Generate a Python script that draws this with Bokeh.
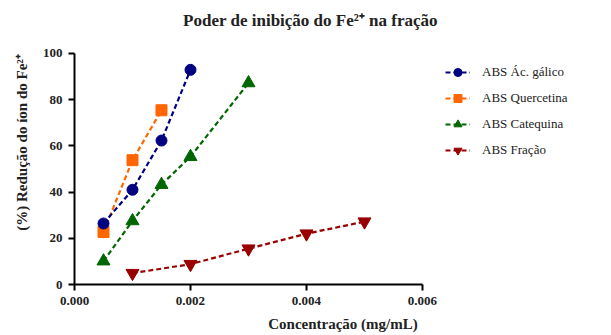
from bokeh.plotting import figure
from bokeh.models import Legend, LegendItem, NumeralTickFormatter, FixedTicker, Range1d, Label
from bokeh.embed import file_html
from bokeh.resources import INLINE

# Data
conc_gal = [0.0005, 0.001, 0.0015, 0.002]
red_gal = [26.4, 41.0, 62.3, 92.9]
conc_que = [0.0005, 0.001, 0.0015]
red_que = [22.7, 53.8, 75.4]
conc_cat = [0.0005, 0.001, 0.0015, 0.002, 0.003]
red_cat = [10.1, 27.5, 43.2, 55.3, 87.2]
conc_fra = [0.001, 0.002, 0.003, 0.004, 0.005]
red_fra = [4.9, 8.8, 15.5, 22.0, 27.2]

x_ticks = [0, 0.002, 0.004, 0.006]
y_ticks = [0, 20, 40, 60, 80, 100]

series = [
    ("ABS Ác. gálico", conc_gal, red_gal, "#000080", "circle", 11),
    ("ABS Quercetina", conc_que, red_que, "#FF6600", "square", 11),
    ("ABS Catequina", conc_cat, red_cat, "#006600", "triangle", 13),
    ("ABS Fração", conc_fra, red_fra, "#990000", "inverted_triangle", 13),
]

SERIF = "Liberation Serif"
TXT = "#222222"

# frame spans the legend/title area; axes are bounded to the data extents
p = figure(width=611, height=335, output_backend="svg", toolbar_location=None,
           x_range=Range1d(0, 0.009259), y_range=Range1d(0, 122.9),
           min_border_left=74, min_border_right=0, min_border_top=0, min_border_bottom=51)
p.outline_line_color = None
p.xgrid.grid_line_color = None
p.ygrid.grid_line_color = None

items = {}
for name, xs, ys, col, marker, size in reversed(series):
    r1 = p.line(xs, ys, line_color=col, line_width=2.2, line_dash="5 3")
    r2 = p.scatter(xs, ys, marker=marker, size=size, fill_color=col, line_color=col)
    items[name] = LegendItem(label=name, renderers=[r1, r2])

for ax in (p.xaxis[0], p.yaxis[0]):
    ax.axis_line_width = 2
    ax.axis_line_color = "black"
    ax.major_tick_line_width = 2
    ax.major_tick_line_color = "black"
    ax.major_tick_out = 6
    ax.major_tick_in = 0
    ax.minor_tick_line_color = None
    ax.major_label_text_font = SERIF
    ax.major_label_text_font_style = "bold"
    ax.major_label_text_font_size = "13px"
    ax.major_label_text_color = TXT
    ax.axis_label_text_font = SERIF
    ax.axis_label_text_font_style = "bold"
    ax.axis_label_text_font_size = "15px"
    ax.axis_label_text_color = TXT

p.xaxis[0].bounds = (0, 0.006)
p.yaxis[0].bounds = (0, 100)
p.xaxis[0].ticker = FixedTicker(ticks=x_ticks)
p.xaxis[0].formatter = NumeralTickFormatter(format="0.000")
p.yaxis[0].ticker = FixedTicker(ticks=y_ticks)
p.xaxis[0].axis_label = "Concentração (mg/mL)"
p.yaxis[0].axis_label = "(%) Redução do íon do Fe²⁺"
p.xaxis[0].major_label_standoff = 6
p.yaxis[0].major_label_standoff = 6
p.xaxis[0].axis_label_standoff = 8
p.yaxis[0].axis_label_standoff = 10

title = Label(x=0.004069, y=114.3, text="Poder de inibição do Fe²⁺ na fração",
              text_align="center", text_baseline="middle",
              text_font=SERIF, text_font_style="bold", text_font_size="17px",
              text_color=TXT)
p.add_layout(title)

legend = Legend(items=[items[s[0]] for s in series], location=(371, 124),
                border_line_color=None,
                background_fill_alpha=0, padding=0, margin=0, spacing=6,
                glyph_height=20, glyph_width=25, label_standoff=12,
                label_text_font=SERIF, label_text_font_size="13px",
                label_text_color=TXT)
p.add_layout(legend, "center")

open("out.html", "w").write(file_html(p, INLINE))
